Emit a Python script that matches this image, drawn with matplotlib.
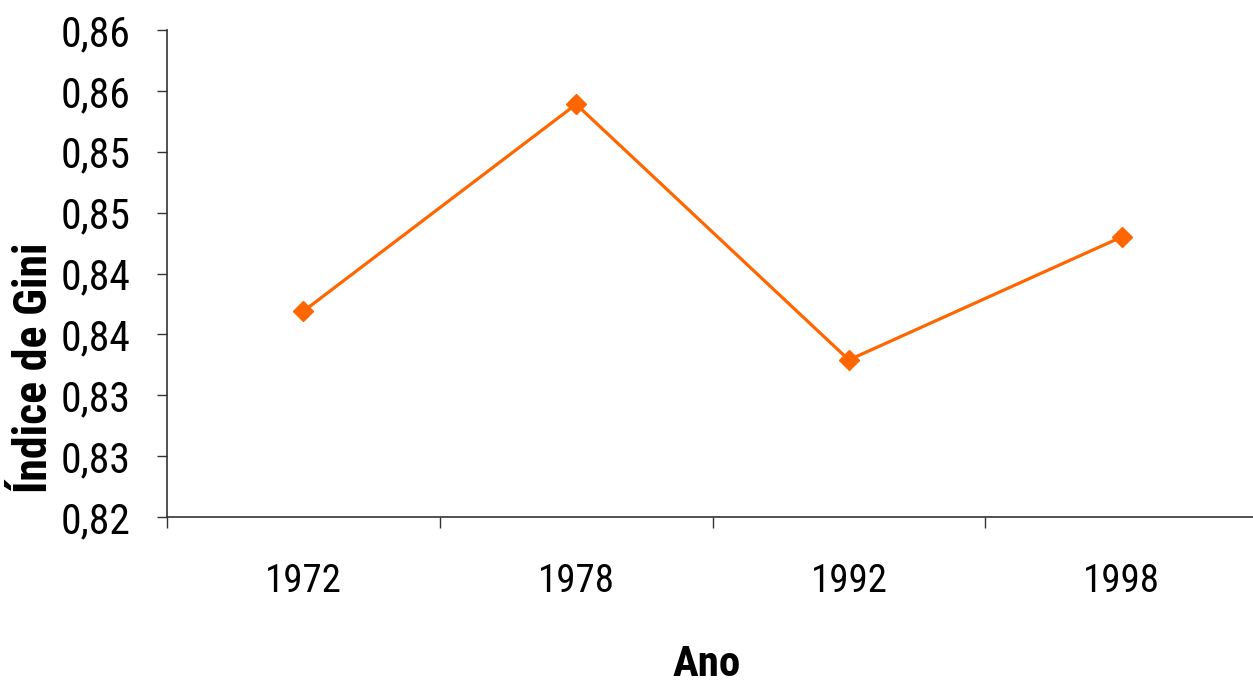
import matplotlib
matplotlib.use("Agg")
import matplotlib.pyplot as plt
from matplotlib.ticker import FixedLocator


YEARS = ["1972", "1978", "1992", "1998"]
GINI = [0.8369, 0.8539, 0.8329, 0.8430]

Y_TICKS = [0.820, 0.825, 0.830, 0.835, 0.840, 0.845, 0.850, 0.855, 0.860]
Y_TICK_LABELS = ["0,82", "0,83", "0,83", "0,84", "0,84", "0,85", "0,85", "0,86", "0,86"]

ORANGE = "#FF6600"
FONT = ["Roboto Condensed", "Archivo Narrow", "Liberation Sans", "DejaVu Sans"]

plt.rcParams["font.family"] = FONT

fig = plt.figure(figsize=(12.53, 6.86), dpi=100)
ax = fig.add_axes([167 / 1253, 1 - 517 / 686, (1258 - 167) / 1253, (517 - 30) / 686])

x = list(range(len(YEARS)))
ax.plot(x, GINI, color=ORANGE, linewidth=2.3, marker="D", markersize=10,
        markerfacecolor=ORANGE, markeredgecolor=ORANGE, clip_on=False)

ax.set_xlim(-0.5, 3.5)
ax.set_ylim(Y_TICKS[0], Y_TICKS[-1])

ax.set_yticks(Y_TICKS)
ax.set_yticklabels(Y_TICK_LABELS)
ax.tick_params(axis="y", direction="out", length=7, width=1, pad=19,
               labelsize=30, colors="#333333", labelcolor="black")

ax.set_xticks(x)
ax.set_xticklabels(YEARS)
ax.tick_params(axis="x", which="major", length=0, pad=33, labelsize=28)
ax.xaxis.set_minor_locator(FixedLocator([-0.5, 0.5, 1.5, 2.5]))
ax.tick_params(axis="x", which="minor", direction="out", length=8, width=1,
               colors="#333333")

for side in ["top", "right"]:
    ax.spines[side].set_visible(False)
for side in ["left", "bottom"]:
    ax.spines[side].set_color("#333333")
    ax.spines[side].set_linewidth(1.2)

fig.text(0.027, 1 - 368 / 686, "Índice de Gini", rotation=90, ha="center",
         va="center", fontsize=33, fontweight="bold")
fig.text(707 / 1253, 1 - 664 / 686, "Ano", ha="center", va="center",
         fontsize=31, fontweight="bold")

fig.savefig("out.png", dpi=100)
